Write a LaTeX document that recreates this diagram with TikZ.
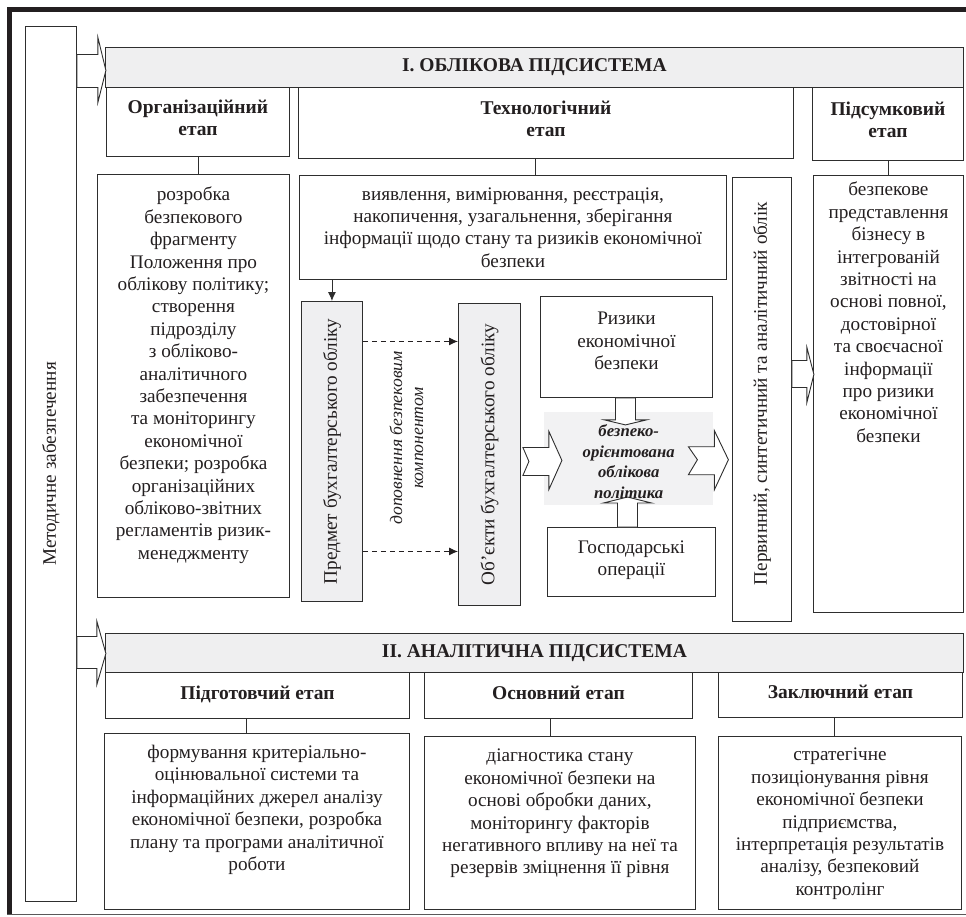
\documentclass[tikz,border=0pt]{standalone}
\usepackage{fontspec}
\setmainfont{Liberation Serif}
\usepackage{tikz}
\usetikzlibrary{calc,positioning,arrows.meta}
\definecolor{frame}{HTML}{231F20}
\definecolor{boxline}{HTML}{2E2E2E}
\definecolor{hdrfill}{HTML}{EFEFF0}
\definecolor{subjfill}{HTML}{EFEFF1}
\definecolor{polfill}{HTML}{F2F2F3}
\definecolor{ink}{HTML}{231F20}
\tikzset{
  ubox/.style={draw=boxline, line width=0.9pt, fill=white, inner sep=0pt, anchor=north west},
  hdr/.style={ubox, fill=hdrfill},
  sbox/.style={ubox, fill=subjfill},
  lab/.style={text=ink, align=center, inner sep=0pt, font=\fontsize{19.2}{22.4}\selectfont},
  blab/.style={lab, font=\bfseries\fontsize{19.5}{22.4}\selectfont},
  vlab/.style={lab, rotate=90},
  link/.style={draw=boxline, line width=0.9pt},
  dasharr/.style={draw=ink, line width=0.9pt, dash pattern=on 5pt off 4pt, -{Latex[length=9pt,width=8pt]}},
  bigarr/.style={draw=boxline, line width=0.9pt, fill=white, line join=miter}
}
\begin{document}
\begin{tikzpicture}[x=1pt,y=-1pt]
  \useasboundingbox (0,0) rectangle (966,916);
  % outer frame
  \fill[frame] (7,7) rectangle (966,12);
  \fill[frame] (7,7) rectangle (12,915);
  \draw[frame!75, line width=1.3pt] (7,914.5) -- (966,914.5);

  % methodological support
  \node[ubox, minimum width=51, minimum height=875] (mz) at (25,26) {};
  \node[vlab] (mzT) at (mz.center) {Методичне забезпечення};

  % I. accounting subsystem
  \node[hdr, blab, minimum width=858, minimum height=40] (hdrA) at (105,47) {І. ОБЛІКОВА ПІДСИСТЕМА};
  \draw[bigarr] (mz.east |- hdrA.west) ++(0,-13) -- ++(21,0) -- ++(0,-17) -- ++(8,33)
    -- ++(-8,32) -- ++(0,-15) -- ++(-21,0) -- cycle;

  \node[ubox, blab, text depth=9pt, minimum width=183, minimum height=69] (orgS) at (106,87) {Організаційний\\етап};
  \node[ubox, blab, text depth=9pt, minimum width=495, minimum height=71] (tecS) at (298,87) {Технологічний\\етап};
  \node[ubox, blab, text depth=9pt, minimum width=151, minimum height=73] (subS) at (812,87) {Підсумковий\\етап};

  \node[ubox, minimum width=192, minimum height=423] (orgC) at (97,174) {};
  \node[lab, below=13pt of orgC.north] (orgCT) {розробка\\безпекового\\фрагменту\\Положення про\\облікову політику;\\створення\\підрозділу\\з обліково-\\аналітичного\\забезпечення\\та моніторингу\\економічної\\безпеки; розробка\\організаційних\\обліково-звітних\\регламентів ризик-\\менеджменту};
  \node[ubox, lab, minimum width=427, minimum height=104] (tecC) at (299,175) {виявлення, вимірювання, реєстрація,\\накопичення, узагальнення, зберігання\\інформації щодо стану та ризиків економічної\\безпеки};
  \node[ubox, minimum width=59, minimum height=444] (obl) at (732,177) {};
  \node[vlab] (oblT) at ([yshift=6pt]obl.center) {Первинний, синтетичний та аналітичний облік};
  \node[ubox, minimum width=150, minimum height=437] (subC) at (813,175) {};
  \node[lab, below=7pt of subC.north] (subCT) {безпекове\\представлення\\бізнесу в\\інтегрованій\\звітності на\\основі повної,\\достовірної\\та своєчасної\\інформації\\про ризики\\економічної\\безпеки};

  \draw[link] (orgS.south) -- (orgS.south |- orgC.north);
  \draw[link] ([xshift=-11pt]tecS.south) -- ([xshift=-11pt]tecS.south |- tecC.north);
  \draw[link] (subS.south) -- (subS.south |- subC.north);
  \draw[bigarr] ([yshift=25pt]obl.east) ++(0,-14) -- ++(15,0) -- ++(0,-13) -- ++(7,27)
    -- ++(-7,28) -- ++(0,-15) -- ++(-15,0) -- cycle;

  % subject and objects of accounting
  \node[sbox, minimum width=61, minimum height=300] (pred) at (301,301) {};
  \node[vlab] (predT) at (pred.center) {Предмет бухгалтерського обліку};
  \node[sbox, minimum width=62, minimum height=302] (obj) at (458,303) {};
  \node[vlab] (objT) at (obj.center) {Об’єкти бухгалтерського обліку};
  \draw[link, -{Latex[length=9pt,width=8pt]}] (pred.north |- tecC.south) -- (pred.north);
  \draw[dasharr] ([yshift=110pt]pred.east) -- ([yshift=110pt]pred.east -| obj.west);
  \draw[dasharr] ([yshift=-100pt]pred.east) -- ([yshift=-100pt]pred.east -| obj.west);
  \node[vlab, font=\itshape\fontsize{17.6}{21}\selectfont] (addT) at ($(pred.east)!0.5!(obj.west)+(-4,-15)$) {доповнення безпековим\\компонентом};

  % risks, policy, operations
  \node[ubox, lab, text depth=12pt, minimum width=172, minimum height=101] (risk) at (540,296) {Ризики\\економічної\\безпеки};
  \node[fill=polfill, inner sep=0pt, anchor=north west, minimum width=169, minimum height=93] (pol) at (544,412) {};
  \node[ubox, lab, text depth=8pt, minimum width=168, minimum height=69] (gosp) at (547,527) {Господарські\\операції};

  \draw[bigarr] ([xshift=-1pt]risk.south) ++(-10,0) -- ++(0,22) -- ++(-11,0) -- ++(21,5)
    -- ++(21,-5) -- ++(-11,0) -- ++(0,-22) -- cycle;
  \draw[bigarr] ([xshift=-4pt]gosp.north) ++(-10,0) -- ++(0,-24) -- ++(-14,0) -- ++(24,-6)
    -- ++(24,6) -- ++(-14,0) -- ++(0,24) -- cycle;
  \draw[bigarr] ([yshift=-7pt]obj.east) ++(2,-14) -- ++(26,0) -- ++(0,-16) -- ++(13,29)
    -- ++(-13,29) -- ++(0,-14) -- ++(-26,0) -- ++(6,-14) -- cycle;
  \draw[bigarr] ([xshift=-25pt]pol.east) ++(0,-12) -- ++(26,0) -- ++(0,-16) -- ++(14,29)
    -- ++(-14,30) -- ++(0,-15) -- ++(-26,0) -- ++(9,-15) -- cycle;
  \node[lab, font=\bfseries\itshape\fontsize{16.7}{20.5}\selectfont] (polT) at ([yshift=-3pt]pol.center) {безпеко-\\орієнтована\\облікова\\політика};

  % II. analytical subsystem
  \node[hdr, blab, minimum width=858, minimum height=39] (hdrB) at (105,633) {ІІ. АНАЛІТИЧНА ПІДСИСТЕМА};
  \draw[bigarr] (mz.east |- hdrB.west) ++(0,-16.5) -- ++(20,0) -- ++(0,-15) -- ++(9,32)
    -- ++(-9,31) -- ++(0,-16) -- ++(-20,0) -- cycle;

  \node[ubox, blab, text height=13pt, text depth=5.5pt, minimum width=304, minimum height=46] (prepS) at (105,672) {Підготовчий етап};
  \node[ubox, blab, text height=13pt, text depth=5.5pt, minimum width=268, minimum height=46] (mainS) at (424,672) {Основний етап};
  \node[ubox, blab, text height=13pt, text depth=5.5pt, minimum width=244, minimum height=45] (finS) at (718,672) {Заключний етап};

  \node[ubox, minimum width=305, minimum height=176] (prepC) at (104,733) {};
  \node[lab, below=12pt of prepC.north] (prepCT) {формування критеріально-\\оцінювальної системи та\\інформаційних джерел аналізу\\економічної безпеки, розробка\\плану та програми аналітичної\\роботи};
  \node[ubox, minimum width=271, minimum height=173] (mainC) at (424,736) {};
  \node[lab, below=13pt of mainC.north] (mainCT) {діагностика стану\\економічної безпеки на\\основі обробки даних,\\моніторингу факторів\\негативного впливу на неї та\\резервів зміцнення її рівня};
  \node[ubox, minimum width=243, minimum height=173] (finC) at (718,736) {};
  \node[lab, below=12pt of finC.north] (finCT) {стратегічне\\позиціонування рівня\\економічної безпеки\\підприємства,\\інтерпретація результатів\\аналізу, безпековий\\контролінг};

  \draw[link] ([xshift=-11pt]prepS.south) -- ([xshift=-11pt]prepS.south |- prepC.north);
  \draw[link] ([xshift=-8pt]mainS.south) -- ([xshift=-8pt]mainS.south |- mainC.north);
  \draw[link] ([xshift=-6pt]finS.south) -- ([xshift=-6pt]finS.south |- finC.north);
\end{tikzpicture}
\end{document}
